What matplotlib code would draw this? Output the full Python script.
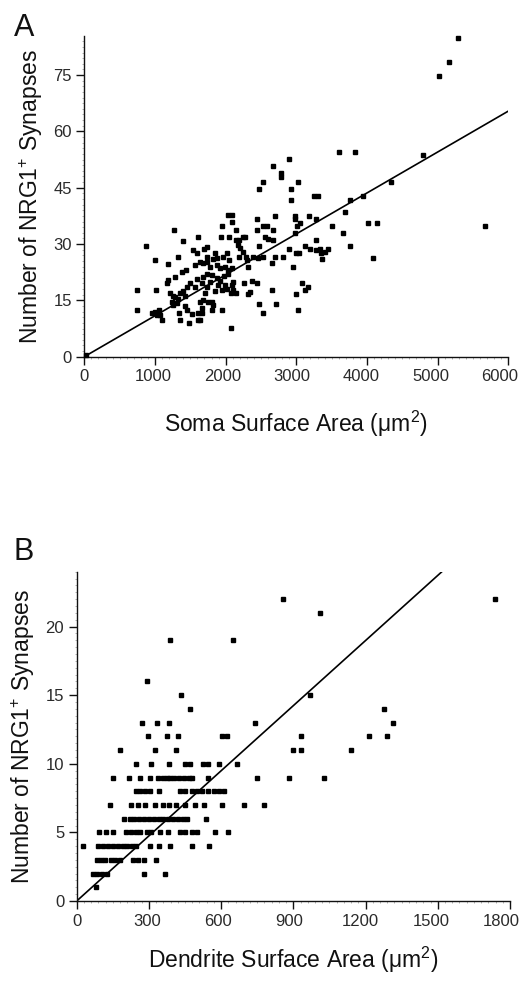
import matplotlib
matplotlib.use("Agg")
import matplotlib.pyplot as plt
from matplotlib.ticker import AutoMinorLocator
import matplotlib.transforms as mtransforms
import numpy as np

plt.rcParams['font.family'] = ['Liberation Sans', 'DejaVu Sans']
plt.rcParams['mathtext.fontset'] = 'custom'
plt.rcParams['mathtext.rm'] = 'Liberation Sans'
plt.rcParams['mathtext.it'] = 'Liberation Sans'
plt.rcParams['mathtext.default'] = 'regular'

# ---------------- Panel A data: soma surface area vs synapses ----------------
soma_x = [5290, 5165, 5015, 3604, 3830, 4788, 2901, 2675, 2779, 2779, 2524, 3028, 4335,
          2476, 2929, 2929, 3255, 3311, 3939, 3755, 3684, 2439, 2698, 2977, 2977, 3180,
          4010, 4137, 5670, 2439, 2533, 2581, 2675, 3052, 3005, 3278, 3505, 3656, 2981,
          2557, 2604, 2666, 2476, 3127, 3278, 3190, 3278, 3349, 3455, 3755, 2901, 2996,
          3040, 2698, 2816, 3359, 4089, 3335, 3400, 2038, 2094, 2094, 1948, 2147, 1930,
          2047, 2147, 2193, 2241, 2274, 2179, 2203, 2250, 1694, 1741, 1817, 1882, 1967,
          2015, 2052, 2193, 2288, 2383, 2462, 2533, 1637, 1732, 1779, 1873, 1920, 1991,
          2038, 2085, 2298, 2321, 2652, 2948, 1684, 1732, 1803, 1873, 1920, 1977, 2038,
          1896, 1991, 1944, 2015, 2072, 2109, 2147, 2085, 2109, 1708, 1637, 1661, 1661,
          1637, 1803, 1826, 1944, 1803, 2260, 2368, 2448, 2345, 2321, 2652, 2708, 2476,
          2533, 2076, 2991, 3076, 3123, 3170, 3028, 1274, 1401, 1613, 873, 1000, 1321,
          1189, 1542, 1590, 1675, 1566, 1439, 1378, 1283, 1189, 1166, 741, 1014, 741,
          1213, 1283, 1354, 1448, 1496, 1566, 1661, 1732, 1236, 1307, 1260, 954, 1000,
          1071, 1095, 1340, 1354, 1486, 1613, 1613, 1684, 1755, 1030, 1050, 1250, 1320,
          1400, 1420, 1460, 1520, 1430, 1590, 1780, 1850, 1732, 1850, 20]
soma_y = [84.8, 78.6, 74.8, 54.6, 54.6, 53.6, 52.6, 50.8, 48.8, 47.9, 46.5, 46.5, 46.5,
          44.6, 44.6, 41.8, 42.8, 42.8, 42.8, 41.8, 38.5, 36.7, 37.5, 37.5, 36.7, 37.5,
          35.7, 35.7, 34.7, 33.8, 34.7, 34.7, 33.8, 35.7, 34.7, 36.7, 34.7, 32.9, 32.9,
          32.0, 31.4, 31.0, 29.6, 29.6, 31.0, 28.8, 28.5, 27.5, 28.6, 29.6, 28.6, 27.7,
          27.7, 26.6, 26.6, 26.0, 26.2, 28.6, 28.0, 37.7, 37.7, 35.8, 34.8, 33.7, 31.8,
          31.8, 31.0, 31.0, 31.8, 31.8, 29.7, 28.9, 28.0, 28.6, 26.6, 25.9, 26.2, 26.6,
          27.5, 25.7, 26.6, 26.6, 26.6, 26.2, 26.6, 25.3, 25.3, 24.0, 24.4, 23.5, 24.0,
          23.1, 23.5, 25.7, 24.0, 24.9, 23.8, 21.3, 22.0, 21.8, 20.9, 20.2, 21.5, 22.0,
          19.1, 19.1, 17.8, 17.9, 16.9, 17.8, 16.9, 19.1, 20.0, 16.9, 14.6, 12.9, 11.6,
          9.8, 14.6, 13.8, 12.4, 12.4, 19.5, 20.2, 19.5, 17.3, 16.7, 17.8, 14.0, 14.0,
          11.6, 7.7, 16.7, 19.5, 17.8, 18.6, 12.4, 33.7, 30.9, 31.8, 29.5, 25.7, 26.6,
          24.7, 28.4, 27.5, 24.9, 24.4, 23.1, 22.6, 21.3, 20.4, 19.5, 17.8, 17.8, 12.4,
          16.9, 16.0, 16.9, 18.6, 19.5, 18.6, 19.5, 18.6, 14.6, 14.2, 13.8, 11.6, 12.0,
          11.1, 9.8, 11.6, 9.8, 8.9, 11.7, 9.8, 15.1, 14.6, 11.0, 12.4, 16.2, 15.4,
          17.6, 16.2, 12.4, 11.4, 13.6, 20.6, 19.8, 17.6, 29.3, 27.5, 0.5]
fitA_x = [0, 6000]
fitA_y = [0, 65.4]
xticksA = [0, 1000, 2000, 3000, 4000, 5000, 6000]
yticksA = [0, 15, 30, 45, 60, 75]

# ---------------- Panel B data: dendrite surface area vs synapses ----------------
dend_rows = {
    1: [80],
    2: [66, 85, 105, 125, 278, 368],
    3: [83, 100, 118, 144, 160, 178, 233, 255, 280, 330],
    4: [28, 90, 110, 130, 150, 170, 191, 210, 230, 248, 303, 342, 389, 480, 550],
    5: [91, 120, 151, 206, 225, 245, 265, 290, 310, 348, 380, 430, 450, 478, 500, 573, 629],
    6: [197, 220, 240, 260, 280, 300, 320, 340, 360, 380, 400, 420, 440, 460, 536],
    7: [137, 225, 253, 282, 324, 360, 384, 414, 449, 490, 529, 604, 695, 778],
    8: [245, 265, 285, 305, 342, 428, 450, 478, 500, 520, 545, 570, 590, 610],
    9: [151, 218, 265, 303, 337, 360, 374, 386, 405, 425, 445, 465, 480, 544, 748, 884, 1028],
    10: [248, 309, 385, 450, 470, 525, 545, 590, 666],
    11: [181, 325, 414, 899, 931, 1140],
    12: [295, 377, 422, 604, 625, 931, 1216, 1291],
    13: [273, 334, 384, 742, 1316],
    14: [470, 1277],
    15: [432, 968],
    16: [294],
    19: [389, 651],
    21: [1012],
    22: [855, 1737],
}
dend_x = [x for k, xs in dend_rows.items() for x in xs]
dend_y = [k for k, xs in dend_rows.items() for x in xs]
fitB_x = [0, 1517]
fitB_y = [0, 24]
xticksB = [0, 300, 600, 900, 1200, 1500, 1800]
yticksB = [0, 5, 10, 15, 20]

W, H = 526, 981
fig = plt.figure(figsize=(W / 100, H / 100), dpi=100)

tick_color = '#2a2a2a'
label_fs = 16.5
ylabel_text = r'Number of NRG$1^{+}$ Synapses'

def style(ax):
    for s in ['top', 'right']:
        ax.spines[s].set_visible(False)
    for s in ['left', 'bottom']:
        ax.spines[s].set_linewidth(1.0)
        ax.spines[s].set_color('#111111')
    ax.tick_params(which='major', direction='out', length=6, width=1.0,
                   labelsize=12, colors='#111111', labelcolor=tick_color, pad=3)
    ax.tick_params(which='minor', direction='out', length=1.6, width=0.4, colors='#777777')
    ax.xaxis.set_minor_locator(AutoMinorLocator(10))
    ax.yaxis.set_minor_locator(AutoMinorLocator(10))

def shift_xlabels(ax):
    n = len(ax.get_xticklabels())
    for i, lab in enumerate(ax.get_xticklabels()):
        dx = -6.0 * i / (n - 1) / 72.0
        lab.set_transform(lab.get_transform() +
                          mtransforms.ScaledTranslation(dx, 0, fig.dpi_scale_trans))

# Panel A
axA = fig.add_axes([84.3 / W, 1 - 356.7 / H, 424.0 / W, 320.7 / H])
axA.plot(fitA_x, fitA_y, color='black', lw=1.2, zorder=2)
axA.plot(soma_x, soma_y, ls='none', marker='s', ms=3.5, color='black', zorder=3,
         clip_on=False)
axA.set_xlim(0, 6000)
axA.set_ylim(0, 85.4)
axA.set_xticks(xticksA)
axA.set_yticks(yticksA)
style(axA)
shift_xlabels(axA)
axA.set_xlabel(r'Soma Surface Area ($\mu$m$^2$)', fontsize=label_fs, labelpad=18,
               color='#111111')
axA.set_ylabel(ylabel_text, fontsize=label_fs, labelpad=6, color='#111111')
fig.text(14 / W, 1 - 36 / H, 'A', fontsize=22, color='#111111', va='baseline')

# Panel B
axB = fig.add_axes([76.7 / W, 1 - 901 / H, 433.3 / W, 329.3 / H])
axB.plot(fitB_x, fitB_y, color='black', lw=1.2, zorder=2)
axB.plot(dend_x, dend_y, ls='none', marker='s', ms=3.5, color='black', zorder=3,
         clip_on=False)
axB.set_xlim(0, 1800)
axB.set_ylim(0, 24)
axB.set_xticks(xticksB)
axB.set_yticks(yticksB)
style(axB)
shift_xlabels(axB)
axB.set_xlabel(r'Dendrite Surface Area ($\mu$m$^2$)', fontsize=label_fs, labelpad=12,
               color='#111111')
axB.set_ylabel(ylabel_text, fontsize=label_fs, labelpad=6, color='#111111')
fig.text(14 / W, 1 - 560 / H, 'B', fontsize=22, color='#111111', va='baseline')

fig.savefig('out.png', dpi=100)
